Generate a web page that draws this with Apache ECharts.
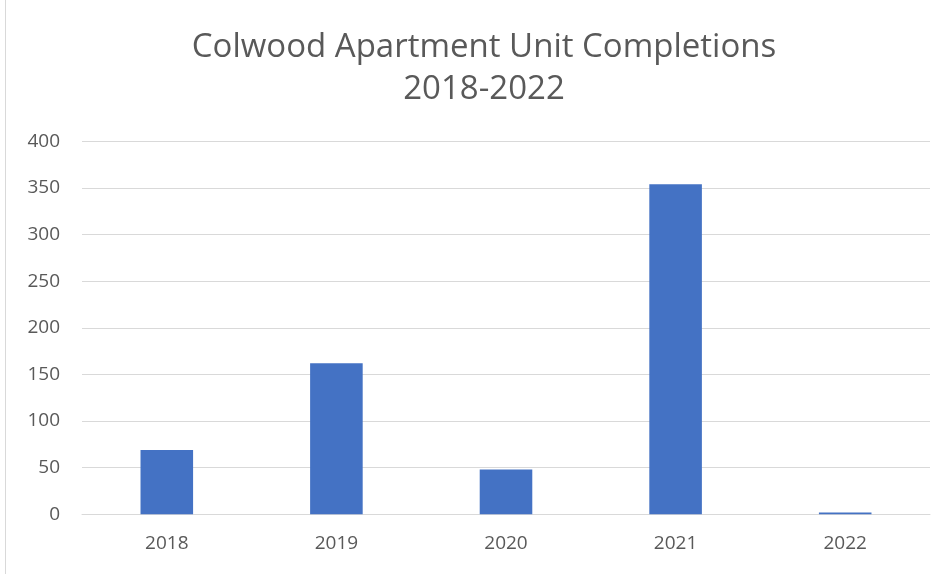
<!DOCTYPE html>
<html><head><meta charset="utf-8">
<script src="https://cdn.jsdelivr.net/npm/echarts@6/dist/echarts.min.js"></script>
<style>html,body{margin:0;padding:0;background:#fff}#c{width:947px;height:574px}</style>
</head><body><div id="c"></div>
<script>
var categories = ['2018', '2019', '2020', '2021', '2022'];
var completions = [69, 162, 48, 354, 2];
var yTicks = [0, 400, 50];
var chart = echarts.init(document.getElementById('c'));
chart.setOption({
  animation: false,
  backgroundColor: '#fff',
  title: {
    text: 'Colwood Apartment Unit Completions\n2018-2022',
    left: 479, top: 22,
    textAlign: 'center',
    textStyle: { fontFamily: 'Open Sans', fontWeight: 'normal', fontSize: 33, color: '#595959', lineHeight: 42 }
  },
  grid: { left: 82, right: 17, top: 141.3, bottom: 59.7, containLabel: false },
  xAxis: {
    type: 'category', data: categories,
    axisLine: { lineStyle: { color: '#d9d9d9', width: 1 } },
    axisTick: { show: false },
    axisLabel: { color: '#595959', fontSize: 19, fontFamily: 'Open Sans', margin: 20 }
  },
  yAxis: {
    type: 'value', min: yTicks[0], max: yTicks[1], interval: yTicks[2],
    axisLine: { show: false }, axisTick: { show: false },
    splitLine: { lineStyle: { color: '#d9d9d9', width: 1 } },
    axisLabel: { color: '#595959', fontSize: 19, fontFamily: 'Open Sans', margin: 22 }
  },
  series: [{
    type: 'bar', data: completions, barWidth: '31%',
    itemStyle: { color: '#4472c4' }
  }],
  graphic: [{ type: 'line', shape: { x1: 5.5, y1: 0, x2: 5.5, y2: 574 }, style: { stroke: '#d9d9d9', lineWidth: 1 } }]
});
</script></body></html>
